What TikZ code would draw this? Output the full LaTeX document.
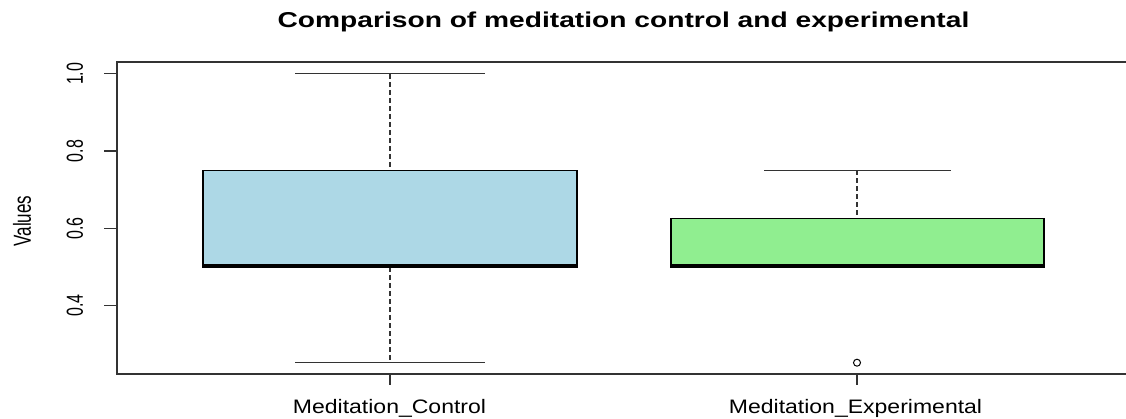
\documentclass[tikz,border=0pt]{standalone}
\usepackage{fontspec}
\setmainfont{Liberation Sans}
\definecolor{boxblue}{HTML}{ADD8E6}
\definecolor{boxgreen}{HTML}{90EE90}
\definecolor{axisgray}{HTML}{333333}
\tikzset{
  frameline/.style={line width=1.4pt, draw=axisgray},
  tickline/.style={line width=1.2pt, draw=axisgray},
  boxbody/.style={draw=black, line width=1.4pt},
  medianline/.style={draw=black, line width=3pt},
  whisker/.style={draw=axisgray, line width=1.2pt, dash pattern=on 5pt off 3pt},
  capline/.style={draw=axisgray, line width=1.2pt},
  ticklabel/.style={font=\fontsize{16}{19}\selectfont, inner sep=0pt, rotate=90},
  catlabel/.style={font=\fontsize{19.5}{22}\selectfont, inner sep=0pt, anchor=base, xscale=1.18, transform shape},
}
\newcommand{\tallify}[1]{\scalebox{1}[1.45]{#1}}
\begin{document}
\begin{tikzpicture}[x=1pt, y=-1pt]
\useasboundingbox (0,0) rectangle (1126,419);
\clip (0,0) rectangle (1126,419);
% title
\node[font=\bfseries\fontsize{21.5}{24}\selectfont, inner sep=0pt, anchor=base, xscale=1.31, transform shape] (title) at (623.5,27.7) {Comparison of meditation control and experimental};
% frame
\coordinate (tl) at (117,62);
\coordinate (bl) at (117,374);
\coordinate (tr) at (1130,62);
\coordinate (br) at (1130,374);
\draw[frameline] (tr) -- (tl) -- (bl) -- (br);
% y axis ticks
\foreach \v/\yy/\k in {1.0/73.8/a, 0.8/151.1/b, 0.6/228.4/c, 0.4/305.7/d}{
  \coordinate (yt\k) at (117,\yy);
  \coordinate (ytl\k) at (104,\yy);
  \draw[tickline] (yt\k) -- (ytl\k);
  \node[ticklabel] (ylab\k) at (75,\yy) {\tallify{\v}};
}
\node[ticklabel, font=\fontsize{17}{20}\selectfont] (ytitle) at (22,221) {\tallify{Values}};
% x axis ticks
\coordinate (xt1) at (390,374);
\coordinate (xt1b) at (390,385);
\coordinate (xt2) at (857,374);
\coordinate (xt2b) at (857,385);
\draw[tickline] (xt1) -- (xt1b);
\draw[tickline] (xt2) -- (xt2b);
\node[catlabel] (cat1) at (389.5,413.3) {Meditation\_Control};
\node[catlabel] (cat2) at (855.5,413.3) {Meditation\_Experimental};
% control box
\coordinate (c1top) at (390,73.8);
\coordinate (c1q3) at (390,170.4);
\coordinate (c1q1) at (390,267);
\coordinate (c1bot) at (390,362.7);
\draw[whisker] (c1top) -- (c1q3);
\draw[whisker] (c1q1) -- (c1bot);
\draw[capline] (295,73.8) -- (485,73.8);
\draw[capline] (295,362.7) -- (485,362.7);
\draw[boxbody, fill=boxblue] (203,170.4) rectangle (577,267);
\draw[medianline] (203,266) -- (577,266);
% experimental box
\coordinate (c2top) at (857,170.4);
\coordinate (c2q3) at (857,218.6);
\draw[whisker] (c2top) -- (c2q3);
\draw[capline] (764,170.4) -- (951,170.4);
\draw[boxbody, fill=boxgreen] (671,218.6) rectangle (1044,267);
\draw[medianline] (671,266) -- (1044,266);
\node[draw=black, line width=1pt, circle, minimum size=7pt, inner sep=0pt] (out) at (857,362.7) {};
\end{tikzpicture}
\end{document}
